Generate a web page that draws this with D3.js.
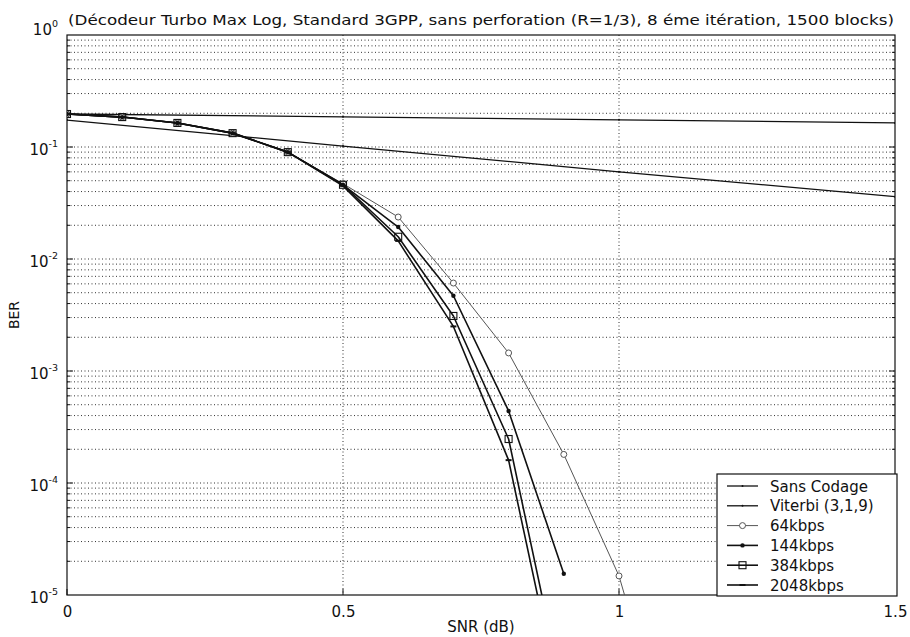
<!DOCTYPE html>
<html>
<head>
<meta charset="utf-8">
<script src="https://cdn.jsdelivr.net/npm/d3@7"></script>
<style>
  body { margin: 0; background: #fff; }
  text { font-family: "DejaVu Sans", Verdana, sans-serif; fill: #111; }
</style>
</head>
<body>
<script>
// values
var titleText = '(Décodeur Turbo Max Log, Standard 3GPP, sans perforation (R=1/3), 8 éme itération, 1500 blocks)';
var xTicks = [0, 0.5, 1, 1.5];
var xTickLabels = ['0', '0.5', '1', '1.5'];
var yExponents = [0, -1, -2, -3, -4, -5];

var refSnr = [0, 0.5, 1, 1.5];
var sansCodageBer = [0.197, 0.186, 0.175, 0.164];
var viterbiBer = [0.174, 0.102, 0.060, 0.036];

var snr = [0, 0.1, 0.2, 0.3, 0.4, 0.5, 0.6, 0.7, 0.8, 0.9, 1.0, 1.1];
var ber64 = [0.197, 0.185, 0.164, 0.133, 0.090, 0.047, 0.0237, 0.0061, 0.00145, 0.00018, 0.0000148, 0.0000003];
var ber144 = [0.197, 0.185, 0.164, 0.133, 0.090, 0.046, 0.0193, 0.0047, 0.00044, 0.0000155];
var ber384 = [0.197, 0.185, 0.164, 0.133, 0.090, 0.046, 0.0158, 0.0031, 0.000247, 0.0000012];
var ber2048 = [0.197, 0.185, 0.164, 0.133, 0.090, 0.045, 0.0145, 0.0025, 0.00016, 0.0000008];

var seriesNames = ['Sans Codage', 'Viterbi (3,1,9)', '64kbps', '144kbps', '384kbps', '2048kbps'];

var W = 910, H = 637;
var pLeft = 67, pRight = 895, pTop = 35, pBottom = 595;

var x = d3.scaleLinear().domain([0, 1.5]).range([pLeft, pRight]);
var y = d3.scaleLog().domain([1e-5, 1]).range([pBottom, pTop]);

var svg = d3.select('body')
            .append('svg')
            .attr('width', W)
            .attr('height', H);

svg.append('defs').append('clipPath')
    .attr('id', 'plotclip')
    .append('rect')
    .attr('x', pLeft).attr('y', pTop)
    .attr('width', pRight - pLeft).attr('height', pBottom - pTop);

// grid: every major and minor decade value, dotted
var gridVals = [];
yExponents.forEach(function(e) {
    if (e === -5) return;
    for (var k = 1; k < 10; k++) gridVals.push(k * Math.pow(10, e - 1));
});
var innerVals = gridVals.filter(function(v){ return v > 1.0001e-5 && v < 0.9999; });

var grid = svg.append('g').attr('class', 'grid');
grid.selectAll('line.h')
    .data(innerVals)
    .enter().append('line')
    .attr('class', 'h')
    .attr('x1', pLeft).attr('x2', pRight)
    .attr('y1', function(d){ return y(d); })
    .attr('y2', function(d){ return y(d); })
    .attr('stroke', '#333')
    .attr('stroke-width', 1)
    .attr('stroke-dasharray', '1,2.5');

grid.selectAll('line.v')
    .data([0.5, 1])
    .enter().append('line')
    .attr('class', 'v')
    .attr('x1', function(d){ return x(d); })
    .attr('x2', function(d){ return x(d); })
    .attr('y1', pTop).attr('y2', pBottom)
    .attr('stroke', '#333')
    .attr('stroke-width', 1)
    .attr('stroke-dasharray', '1,2.5');

// axes box
svg.append('rect')
    .attr('x', pLeft).attr('y', pTop)
    .attr('width', pRight - pLeft).attr('height', pBottom - pTop)
    .attr('fill', 'none')
    .attr('stroke', '#111')
    .attr('stroke-width', 1.2);

// x axis
var xAxis = d3.axisBottom(x)
    .tickValues(xTicks)
    .tickSize(0)
    .tickPadding(11)
    .tickFormat(function(d, i){ return xTickLabels[i]; });
var gx = svg.append('g')
    .attr('transform', 'translate(0,' + pBottom + ')')
    .call(xAxis);
gx.select('.domain').remove();
gx.selectAll('text')
    .attr('font-size', 15)
    .attr('font-family', '"DejaVu Sans", Verdana, sans-serif')
    .attr('fill', '#111');

// inward ticks
svg.selectAll('line.xt')
    .data(xTicks)
    .enter().append('line')
    .attr('class', 'xt')
    .attr('x1', function(d){ return x(d); })
    .attr('x2', function(d){ return x(d); })
    .attr('y1', pBottom).attr('y2', pBottom - 6)
    .attr('stroke', '#111');

svg.selectAll('line.yt')
    .data(innerVals)
    .enter().append('line')
    .attr('class', 'yt')
    .attr('x1', pRight)
    .attr('x2', function(d){ return Math.abs(Math.log10(d) - Math.round(Math.log10(d))) < 1e-6 ? pRight - 6 : pRight - 3; })
    .attr('y1', function(d){ return y(d); })
    .attr('y2', function(d){ return y(d); })
    .attr('stroke', '#111');

svg.selectAll('line.ytl')
    .data(innerVals)
    .enter().append('line')
    .attr('class', 'ytl')
    .attr('x1', pLeft)
    .attr('x2', function(d){ return Math.abs(Math.log10(d) - Math.round(Math.log10(d))) < 1e-6 ? pLeft + 6 : pLeft + 3; })
    .attr('y1', function(d){ return y(d); })
    .attr('y2', function(d){ return y(d); })
    .attr('stroke', '#111');

// y labels 10^n
var yl = svg.selectAll('text.ylab')
    .data(yExponents)
    .enter().append('text')
    .attr('class', 'ylab')
    .attr('x', 58)
    .attr('y', function(d){ return y(Math.pow(10, d)) + (d === 0 ? 0 : 8); })
    .attr('text-anchor', 'end')
    .attr('font-size', 15);
yl.append('tspan').text('10');
yl.append('tspan')
    .attr('dy', -8)
    .attr('font-size', 9.5)
    .text(function(d){ return d === 0 ? '0' : String(d); });

// title and axis labels
svg.append('text')
    .attr('x', (pLeft + pRight) / 2)
    .attr('y', 25)
    .attr('text-anchor', 'middle')
    .attr('font-size', 14.5)
    .attr('textLength', 826)
    .attr('lengthAdjust', 'spacingAndGlyphs')
    .text(titleText);

svg.append('text')
    .attr('x', (pLeft + pRight) / 2)
    .attr('y', 632)
    .attr('text-anchor', 'middle')
    .attr('font-size', 15)
    .text('SNR (dB)');

svg.append('text')
    .attr('transform', 'translate(19,' + ((pTop + pBottom) / 2) + ') rotate(-90)')
    .attr('text-anchor', 'middle')
    .attr('font-size', 14)
    .text('BER');

// curves
var series = [
    {name: seriesNames[0], xs: refSnr, ys: sansCodageBer, color: '#111', width: 1.3, marker: 'dot'},
    {name: seriesNames[1], xs: refSnr, ys: viterbiBer, color: '#111', width: 1.3, marker: 'dot'},
    {name: seriesNames[2], xs: snr, ys: ber64, color: '#555', width: 1, marker: 'circle'},
    {name: seriesNames[3], xs: snr, ys: ber144, color: '#111', width: 1.6, marker: 'plus'},
    {name: seriesNames[4], xs: snr, ys: ber384, color: '#111', width: 1.6, marker: 'square'},
    {name: seriesNames[5], xs: snr, ys: ber2048, color: '#111', width: 1.6, marker: 'dash'}
];

var line = d3.line()
    .x(function(d){ return x(d[0]); })
    .y(function(d){ return y(d[1]); });

var plot = svg.append('g').attr('clip-path', 'url(#plotclip)');

function drawMarker(g, type, cx, cy, color) {
    if (type === 'circle') {
        g.append('circle').attr('cx', cx).attr('cy', cy).attr('r', 3)
            .attr('fill', '#fff').attr('stroke', color).attr('stroke-width', 1);
    } else if (type === 'square') {
        g.append('rect').attr('x', cx - 3.5).attr('y', cy - 3.5).attr('width', 7).attr('height', 7)
            .attr('fill', 'none').attr('stroke', color).attr('stroke-width', 1.1);
    } else if (type === 'plus') {
        g.append('circle').attr('cx', cx).attr('cy', cy).attr('r', 2.2).attr('fill', color);
    } else if (type === 'dash') {
        g.append('line').attr('x1', cx - 3).attr('x2', cx + 3).attr('y1', cy).attr('y2', cy)
            .attr('stroke', color).attr('stroke-width', 2);
    } else {
        g.append('circle').attr('cx', cx).attr('cy', cy).attr('r', 1).attr('fill', color);
    }
}

series.forEach(function(s) {
    var pts = s.ys.map(function(v, i){ return [s.xs[i], v]; });
    plot.append('path')
        .datum(pts)
        .attr('d', line)
        .attr('fill', 'none')
        .attr('stroke', s.color)
        .attr('stroke-width', s.width)
        .attr('stroke-linejoin', 'round');
    var mg = plot.append('g');
    pts.forEach(function(p) {
        if (p[1] >= 1e-5) drawMarker(mg, s.marker, x(p[0]), y(p[1]), s.color);
    });
});

// legend
var lgX = 717, lgY = 474, lgW = 180, lgH = 122;
svg.append('rect')
    .attr('x', lgX).attr('y', lgY)
    .attr('width', lgW).attr('height', lgH)
    .attr('fill', '#fff')
    .attr('stroke', '#111')
    .attr('stroke-width', 1.2);

var lg = svg.selectAll('g.lg')
    .data(series)
    .enter().append('g')
    .attr('class', 'lg')
    .attr('transform', function(d, i){ return 'translate(' + lgX + ',' + (lgY + 12 + i * 19.8) + ')'; });

lg.append('line')
    .attr('x1', 10).attr('x2', 41)
    .attr('y1', 0).attr('y2', 0)
    .attr('stroke', function(d){ return d.color; })
    .attr('stroke-width', function(d){ return d.width; });
lg.each(function(d) {
    drawMarker(d3.select(this), d.marker, 25.5, 0, d.color);
});
lg.append('text')
    .attr('x', 53)
    .attr('y', 5.5)
    .attr('font-size', 15)
    .text(function(d){ return d.name; });
</script>
</body>
</html>
